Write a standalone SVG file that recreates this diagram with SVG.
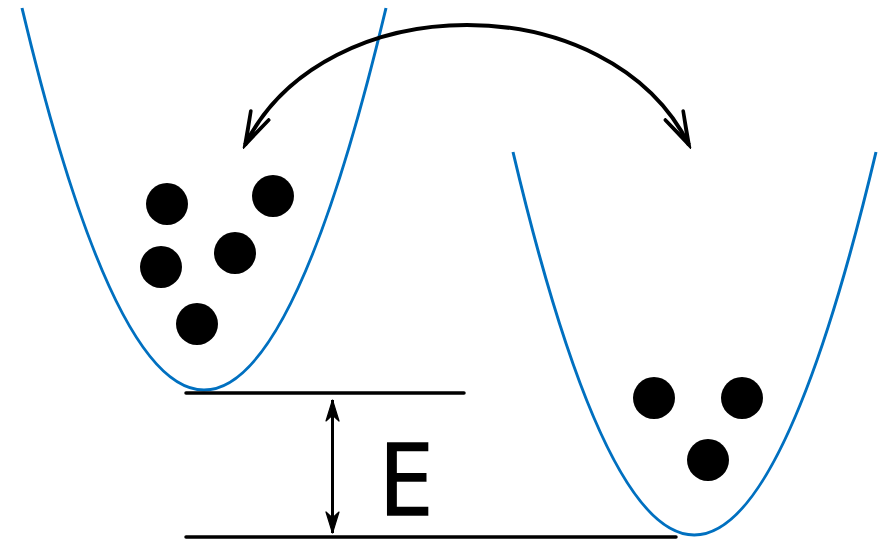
<svg xmlns="http://www.w3.org/2000/svg" width="881" height="539" viewBox="0 0 881 539">
  <style>
    .well { fill: none; stroke: #0070C0; stroke-width: 3; }
    .dot { fill: #000; }
    .level { stroke: #000; stroke-width: 3.5; stroke-linecap: round; }
    .conn { fill: none; stroke: #000; }
    .label { font-family: "Open Sans", "Liberation Sans", sans-serif; font-size: 100px; fill: #000; stroke: #000; stroke-width: 1.6px; }
  </style>
  <defs>
    <marker id="vhead" viewBox="-36 -14 40 28" markerWidth="40" markerHeight="28" refX="0" refY="0" markerUnits="userSpaceOnUse" orient="auto-start-reverse">
      <path d="M-33,-10 L0,0 L-33,10 M-33,-10 L-2,0 L-33,10" fill="none" stroke="#000" stroke-width="3.6" stroke-linejoin="miter" stroke-linecap="round"/>
    </marker>
    <marker id="shead" viewBox="-24 -9 26 18" markerWidth="26" markerHeight="18" refX="0" refY="0" markerUnits="userSpaceOnUse" orient="auto-start-reverse">
      <path d="M0,0 L-21,-6.5 L-15,0 L-21,6.5 Z" fill="#000" stroke="#000" stroke-width="1.2" stroke-linejoin="round"/>
    </marker>
  </defs>

  <g id="left-well">
    <path class="well" d="M22,8 Q204,772 386,8"/>
    <circle class="dot" cx="167" cy="204" r="21"/>
    <circle class="dot" cx="273" cy="196" r="21"/>
    <circle class="dot" cx="161" cy="267" r="21"/>
    <circle class="dot" cx="235" cy="253" r="21"/>
    <circle class="dot" cx="197" cy="324" r="21"/>
  </g>

  <g id="right-well">
    <path class="well" d="M513,152 Q694,918 876,152"/>
    <circle class="dot" cx="654" cy="398" r="21"/>
    <circle class="dot" cx="742" cy="398" r="21"/>
    <circle class="dot" cx="708" cy="460" r="21"/>
  </g>

  <g id="levels">
    <line class="level" x1="186" y1="393" x2="464" y2="393"/>
    <line class="level" x1="186" y1="537" x2="676" y2="537"/>
  </g>

  <g id="energy-label">
    <text class="label" x="378" y="515">E</text>
  </g>

  <g id="connectors">
    <path class="conn" stroke-width="4" d="M245,145 C325,-15 609,-15 689,145" marker-start="url(#vhead)" marker-end="url(#vhead)"/>
    <line class="conn" stroke-width="3" x1="332.5" y1="400" x2="332.5" y2="533" marker-start="url(#shead)" marker-end="url(#shead)"/>
  </g>
</svg>
